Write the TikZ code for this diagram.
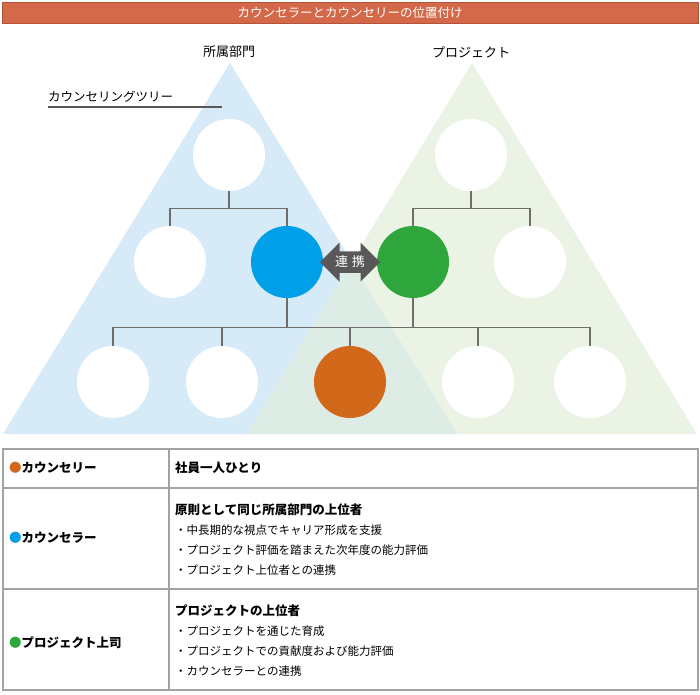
\documentclass[tikz,border=0pt]{standalone}
\usepackage{fontspec}
\setmainfont{Noto Sans CJK JP}
\usetikzlibrary{positioning,shapes.arrows,calc}
\definecolor{ctbar}{HTML}{D4694A}
\definecolor{ctbarline}{HTML}{B4533A}
\definecolor{ctbluebg}{HTML}{D6EAF8}
\definecolor{ctgreenbg}{HTML}{EAF3E4}
\definecolor{ctmixbg}{HTML}{DDEDE6}
\definecolor{ctblue}{HTML}{00A0E9}
\definecolor{ctgreen}{HTML}{2FA63C}
\definecolor{ctorange}{HTML}{D2691A}
\definecolor{ctgrey}{HTML}{6E6E6E}
\definecolor{ctarrow}{HTML}{595757}
\definecolor{cttable}{HTML}{A3A3A3}
\tikzset{
  ct member/.style={circle,fill=white,minimum size=72pt,inner sep=0pt},
  ct line/.style={draw=ctgrey,line width=1.2pt},
  ct rule/.style={draw=ctgrey!80!black,line width=1.2pt},
  ct grid/.style={draw=cttable,line width=1.2pt},
  ct head/.style={font=\fontsize{13}{15}\selectfont,inner sep=0pt},
  ct cell/.style={anchor=west,inner sep=0pt,font=\fontsize{11.5}{14}\selectfont},
  ct bold/.style={ct cell,font=\fontsize{12.5}{14}\selectfont\bfseries}
}

\begin{document}
\begin{tikzpicture}[x=1pt,y=-1pt]
  \useasboundingbox (0,0) rectangle (700,694);

  % title bar
  \node[fill=ctbar,draw=ctbarline,line width=0.8pt,minimum width=696pt,minimum height=21pt,
    inner sep=0pt,text=white,font=\fontsize{12.5}{14}\selectfont] (title) at (350,12.5)
    {カウンセラーとカウンセリーの位置付け};

  % the two organisations as overlapping triangles
  \fill[ctbluebg] (230,63) -- (457,434) -- (3,434) -- cycle;
  \fill[ctgreenbg] (472,63) -- (697,434) -- (247,434) -- cycle;
  \begin{scope}
    \clip (230,63) -- (457,434) -- (3,434) -- cycle;
    \fill[ctmixbg] (472,63) -- (697,434) -- (247,434) -- cycle;
  \end{scope}

  \node[ct head] (dept) at (229,52) {所属部門};
  \node[ct head] (proj) at (471,52) {プロジェクト};

  \node[anchor=west,inner sep=0pt,font=\fontsize{12.5}{14}\selectfont] (treelabel) at (48,97)
    {カウンセリングツリー};
  \coordinate (treeend) at (222,107);
  \draw[ct rule] (treelabel.west |- treeend) -- (treeend);

  % members of each tree
  \node[ct member] (lt) at (229,155) {};
  \node[ct member] (lw) at (170,262) {};
  \node[ct member,fill=ctblue] (lc) at (287,262) {};
  \node[ct member] (rt) at (471,155) {};
  \node[ct member,fill=ctgreen] (rc) at (413,262) {};
  \node[ct member] (rw) at (530,262) {};
  \node[ct member] (b1) at (113,382) {};
  \node[ct member] (b2) at (222,382) {};
  \node[ct member,fill=ctorange] (b3) at (350,382) {};
  \node[ct member] (b4) at (478,382) {};
  \node[ct member] (b5) at (590,382) {};

  % tree connectors
  \draw[ct line] (lt.south) -- ++(0,17) coordinate (lj);
  \draw[ct line] (lw.north) |- (lj) -| (lc.north);
  \draw[ct line] (rt.south) -- ++(0,17) coordinate (rj);
  \draw[ct line] (rc.north) |- (rj) -| (rw.north);
  \draw[ct line] (lc.south) -- ++(0,29) coordinate (bj);
  \draw[ct line] (b1.north) |- (bj) -| (b5.north);
  \draw[ct line] (rc.south) -- (rc.south |- bj);
  \foreach \m in {b2,b3,b4}
    \draw[ct line] (\m.north) -- (\m.north |- bj);

  \node[double arrow,fill=ctarrow,text=white,inner xsep=1pt,inner ysep=3pt,
    minimum height=60pt,minimum width=39pt,double arrow head extend=7.5pt,
    font=\fontsize{13}{15}\selectfont] (link) at (350,262) {連\hspace{4pt}携};

  % table
  \draw[ct grid] (3,449) rectangle (698,690);
  \draw[ct grid] (3,488) -- (698,488);
  \draw[ct grid] (3,589) -- (698,589);
  \draw[ct grid] (169,449) -- (169,690);

  \node[ct bold] (keyee) at (9,468) {{\color{ctorange}●}カウンセリー};
  \node[ct bold] (keyor) at (9,538) {{\color{ctblue}●}カウンセラー};
  \node[ct bold] (keyboss) at (9,643) {{\color{ctgreen}●}プロジェクト上司};

  \node[ct bold] (eehead) at (175,468) {社員一人ひとり};

  \node[ct bold] (orhead) at (175,510) {原則として同じ所属部門の上位者};
  \node[ct cell] (ora) at (175,530) {・中長期的な視点でキャリア形成を支援};
  \node[ct cell] (orb) at (175,550) {・プロジェクト評価を踏まえた次年度の能力評価};
  \node[ct cell] (orc) at (175,570) {・プロジェクト上位者との連携};

  \node[ct bold] (bosshead) at (175,611) {プロジェクトの上位者};
  \node[ct cell] (bossa) at (175,631) {・プロジェクトを通じた育成};
  \node[ct cell] (bossb) at (175,651) {・プロジェクトでの貢献度および能力評価};
  \node[ct cell] (bossc) at (175,671) {・カウンセラーとの連携};
\end{tikzpicture}
\end{document}
